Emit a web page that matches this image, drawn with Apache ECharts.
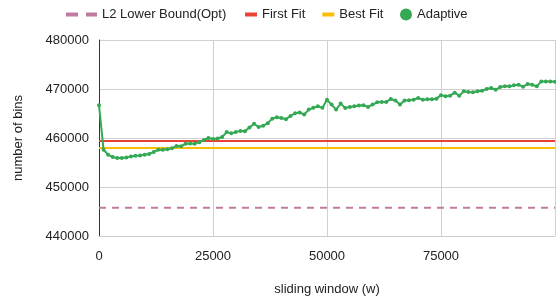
<!DOCTYPE html>
<html>
<head>
<meta charset="utf-8">
<script src="https://cdn.jsdelivr.net/npm/echarts@6/dist/echarts.min.js"></script>
<style>
  html, body { margin: 0; padding: 0; overflow: hidden; background: #fff; }
  #chart { width: 558px; height: 301px; }
</style>
</head>
<body>
<div id="chart"></div>
<script>
  // sliding window sizes, one sample every 1000
  const windows = [];
  for (let i = 0; i <= 100; i++) windows.push(i * 1000);

  const adaptive = [
    466700, 457600, 456600, 456100, 455900, 455900, 456000, 456250, 456400, 456450,
    456600, 456750, 457150, 457600, 457600, 457700, 457900, 458350, 458300, 458850,
    458900, 458850, 459150, 459600, 460000, 459800, 459900, 460200, 461200, 460950,
    461200, 461450, 461400, 462150, 462900, 462250, 462500, 463030, 463950, 464250,
    464100, 463850, 464500, 465050, 465200, 464800, 465800, 466150, 466480, 466150,
    467800, 466820, 465800, 467020, 466140, 466350, 466480, 466620, 466680, 466350,
    466820, 467290, 467360, 467360, 467970, 467630, 466820, 467630, 467700, 467830,
    468170, 467830, 467900, 467900, 468030, 468750, 468510, 468640, 469250, 468640,
    469520, 469390, 469320, 469520, 469660, 469990, 470200, 469860, 470400, 470540,
    470540, 470740, 470870, 470470, 471010, 470870, 470540, 471550, 471550, 471550,
    471500
  ];

  const l2Bound = 445750;
  const firstFit = 459400;
  const bestFit = 457950;

  const yTicks = [440000, 450000, 460000, 470000, 480000];
  const xTicks = [0, 25000, 50000, 75000];

  const font = 'Liberation Sans, Arial, sans-serif';
  const txt = '#222';

  const flat = v => [[0, v], [100000, v]];

  const chart = echarts.init(document.getElementById('chart'));
  chart.setOption({
    animation: false,
    textStyle: { fontFamily: font },
    legend: [{
      left: 61, top: 3,
      itemWidth: 31, itemHeight: 4,
      textStyle: { fontSize: 13, color: txt, fontFamily: font },
      data: [{ name: 'L2 Lower Bound(Opt)', icon: 'path://M0,0H12V4H0Z M20,0H31V4H20Z' }]
    }, {
      left: 240, top: 3,
      itemWidth: 12, itemHeight: 4, itemGap: 17,
      textStyle: { fontSize: 13, color: txt, fontFamily: font },
      data: [{ name: 'First Fit', icon: 'rect' }, { name: 'Best Fit', icon: 'rect' }]
    }, {
      left: 395, top: 3,
      itemWidth: 12, itemHeight: 12,
      textStyle: { fontSize: 13, color: txt, fontFamily: font },
      data: [{ name: 'Adaptive', icon: 'circle' }]
    }],
    grid: { left: 99, right: 1, top: 40, bottom: 64 },
    xAxis: {
      type: 'value',
      min: 0, max: 100000, interval: 25000,
      name: 'sliding window (w)',
      nameLocation: 'middle',
      nameGap: 47,
      nameTextStyle: { fontSize: 13, color: txt },
      axisLine: { show: true, lineStyle: { color: '#ccc', width: 1 } },
      axisTick: { show: false },
      axisLabel: {
        fontSize: 13, color: txt, margin: 14,
        formatter: v => xTicks.indexOf(v) >= 0 ? String(v) : ''
      },
      splitLine: { show: true, lineStyle: { color: '#d0d0d0', width: 1 } }
    },
    yAxis: {
      type: 'value',
      min: 440000, max: 480000, interval: 10000,
      name: 'number of bins',
      nameLocation: 'middle',
      nameGap: 74,
      nameTextStyle: { fontSize: 13, color: txt },
      axisLine: { show: true, lineStyle: { color: '#333', width: 1 } },
      axisTick: { show: false },
      axisLabel: {
        fontSize: 13, color: txt, margin: 10,
        formatter: v => yTicks.indexOf(v) >= 0 ? String(v) : ''
      },
      splitLine: { show: true, lineStyle: { color: '#d0d0d0', width: 1 } }
    },
    series: [{
      name: 'L2 Lower Bound(Opt)',
      type: 'line',
      data: flat(l2Bound),
      symbol: 'none',
      itemStyle: { color: '#c27ba0' },
      lineStyle: { color: '#c27ba0', width: 2, type: [7, 6] }
    }, {
      name: 'First Fit',
      type: 'line',
      data: flat(firstFit),
      symbol: 'none',
      itemStyle: { color: '#ea4335' },
      lineStyle: { color: '#ea4335', width: 2 }
    }, {
      name: 'Best Fit',
      type: 'line',
      data: flat(bestFit),
      symbol: 'none',
      itemStyle: { color: '#fbbc04' },
      lineStyle: { color: '#fbbc04', width: 2 }
    }, {
      name: 'Adaptive',
      type: 'line',
      data: windows.map((w, i) => [w, adaptive[i]]),
      symbol: 'circle',
      symbolSize: 4,
      itemStyle: { color: '#34a853' },
      lineStyle: { color: '#34a853', width: 2 }
    }]
  });
</script>
</body>
</html>
